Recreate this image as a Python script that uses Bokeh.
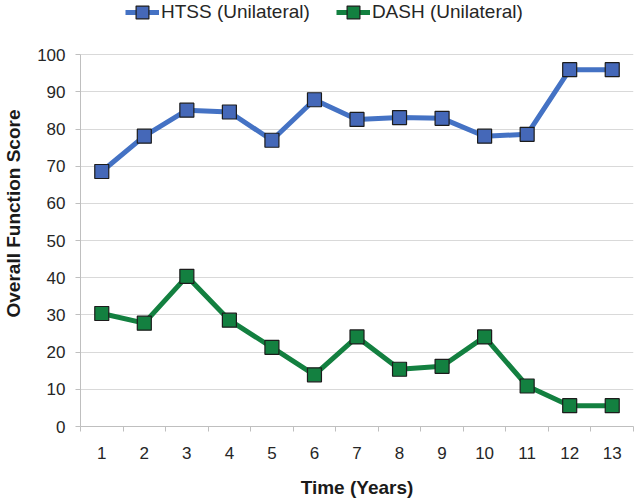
from bokeh.plotting import figure
from bokeh.models import FixedTicker, Legend, LegendItem, Range1d
from bokeh.embed import file_html
from bokeh.resources import INLINE

# ---- data ----
years = list(range(1, 14))
htss = [68.6, 78.1, 85.1, 84.6, 77.0, 87.9, 82.6, 83.1, 82.9, 78.1, 78.6, 96.0, 96.0]
dash = [30.4, 27.8, 40.4, 28.6, 21.3, 13.9, 24.1, 15.4, 16.2, 24.1, 10.9, 5.6, 5.6]
series_names = ["HTSS (Unilateral)", "DASH (Unilateral)"]
y_ticks = list(range(0, 101, 10))
x_boundaries = [0.5 + i for i in range(14)]
x_title = "Time (Years)"
y_title = "Overall Function Score"

FONT = "Liberation Sans"
AXIS_GRAY = "#bfbfbf"
TEXT = "#262626"

# the frame reaches the top of the canvas so the legend can sit above the 100 line
Y_TOP = 114.6

p = figure(width=638, height=500, output_backend="svg", toolbar_location=None,
           x_range=Range1d(0.5, 13.5), y_range=Range1d(0, Y_TOP),
           min_border_left=77, min_border_right=5, min_border_top=0,
           min_border_bottom=74)
p.outline_line_color = None
p.background_fill_color = "white"
p.border_fill_color = "white"

# axes
xa = p.xaxis[0]
xa.ticker = FixedTicker(ticks=years, minor_ticks=x_boundaries)
xa.axis_line_color = AXIS_GRAY
xa.major_tick_out = 0
xa.major_tick_in = 0
xa.minor_tick_out = 5
xa.minor_tick_in = 0
xa.minor_tick_line_color = AXIS_GRAY
xa.major_label_text_font = FONT
xa.major_label_text_font_size = "17px"
xa.major_label_text_color = TEXT
xa.major_label_standoff = 15
xa.axis_label = x_title
xa.axis_label_text_font = FONT
xa.axis_label_text_font_size = "19px"
xa.axis_label_text_font_style = "bold"
xa.axis_label_text_color = "#1a1a1a"
xa.axis_label_standoff = 15

ya = p.yaxis[0]
ya.ticker = FixedTicker(ticks=y_ticks)
ya.bounds = (y_ticks[0], y_ticks[-1])
ya.axis_line_color = AXIS_GRAY
ya.major_tick_out = 5
ya.major_tick_in = 0
ya.major_tick_line_color = AXIS_GRAY
ya.minor_tick_line_color = None
ya.major_label_text_font = FONT
ya.major_label_text_font_size = "17px"
ya.major_label_text_color = TEXT
ya.major_label_standoff = 10
ya.axis_label = y_title
ya.axis_label_text_font = FONT
ya.axis_label_text_font_size = "19px"
ya.axis_label_text_font_style = "bold"
ya.axis_label_text_color = "#1a1a1a"
ya.axis_label_standoff = 10

p.xgrid.visible = False
p.ygrid.ticker = FixedTicker(ticks=y_ticks)
p.ygrid.grid_line_color = "#d9d9d9"
p.ygrid.grid_line_width = 1

# series
l1 = p.line(years, htss, line_color="#4472C4", line_width=5)
s1 = p.scatter(years, htss, marker="square", size=14, fill_color="#4568B8",
               line_color="#1c1c1c", line_width=1.2)
l2 = p.line(years, dash, line_color="#138040", line_width=5)
s2 = p.scatter(years, dash, marker="square", size=14, fill_color="#138040",
               line_color="#1c1c1c", line_width=1.2)

legend = Legend(items=[LegendItem(label=series_names[0], renderers=[l1, s1]),
                       LegendItem(label=series_names[1], renderers=[l2, s2])],
                orientation="horizontal", location=(45, 398),
                padding=0, margin=0, spacing=26,
                glyph_width=34, glyph_height=32, label_height=32,
                label_standoff=2,
                border_line_color=None, background_fill_alpha=0,
                label_text_font=FONT, label_text_font_size="19px",
                label_text_color=TEXT)
p.add_layout(legend)

open("out.html", "w").write(file_html(p, INLINE))
